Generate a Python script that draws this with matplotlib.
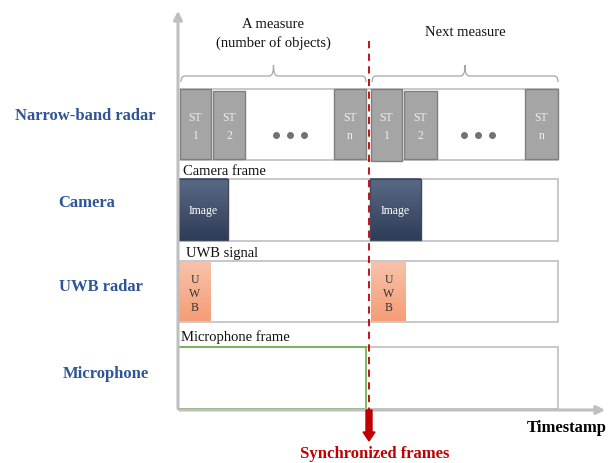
import numpy as np
import matplotlib
matplotlib.use("Agg")
import matplotlib.pyplot as plt
from matplotlib.patches import Rectangle, FancyArrow
from matplotlib.path import Path
from matplotlib.patches import PathPatch
from matplotlib.colors import LinearSegmentedColormap

plt.rcParams["font.family"] = ["Liberation Serif", "DejaVu Serif"]

# sensors (row labels) and the label written above each lane
sensors = ["Narrow-band radar", "Camera", "UWB radar", "Microphone"]
lane_titles = ["", "Camera frame", "UWB signal", "Microphone frame"]
label_x = [85, 87, 101, 106]
label_y = [116, 203, 287, 374]

# time extents of lanes (pixel-like timeline units)
t_start, t_end = 178, 558
lane_top = [90, 180, 262, 348]
lane_bot = [161, 242, 323, 410]
sync_t = 369

# narrow-band radar slots: (start, end, label)
st_slots = [(180, 211, "ST\n1"), (213, 245, "ST\n2"), (334, 366, "ST\nn"),
            (371, 402, "ST\n1"), (404, 437, "ST\n2"), (525, 558, "ST\nn")]
dots_centres = [290, 478]
# camera images, uwb pulses, microphone frames
image_slots = [(178, 228), (370, 421)]
uwb_slots = [(178, 211), (371, 406)]
mic_slots = [(178, 366)]
# measures (braces)
measures = [(181, 366, "A measure\n(number of objects)", 34), (372, 558, "Next measure", 33)]

fig = plt.figure(figsize=(6.09, 4.64), dpi=100)
ax = fig.add_axes([0, 0, 1, 1])
ax.set_xlim(0, 609)
ax.set_ylim(464, 0)
ax.axis("off")

axis_c = "#bfbfbf"
box_c = "#bfbfbf"

# lanes
for top, bot in zip(lane_top, lane_bot):
    ax.add_patch(Rectangle((t_start, top), t_end - t_start, bot - top, fc="white",
                           ec=box_c, lw=1.2, zorder=1))

# narrow-band radar slots
for i, (a, b, lab) in enumerate(st_slots):
    top = lane_top[0] + (2 if i in (1, 4) else 0)
    bot = lane_bot[0] + (1 if i == 3 else -1)
    ax.add_patch(Rectangle((a, top), b - a, bot - top, fc="#a5a5a5", ec="#7f7f7f",
                           lw=1.0, zorder=2))
    ax.text((a + b) / 2, 127, lab, ha="center", va="center", color="#eeeeee",
            fontsize=8.5, linespacing=1.6, zorder=3)
for c in dots_centres:
    ax.scatter([c - 14, c, c + 14], [136, 136, 136], s=16, color="#767171", zorder=3)

# camera images with gradient
cam_cmap = LinearSegmentedColormap.from_list("cam", ["#5b6a84", "#2f3c57"])
grad = np.linspace(0, 1, 64).reshape(-1, 1)
for a, b in image_slots:
    ax.imshow(grad, cmap=cam_cmap, extent=(a, b, lane_bot[1] - 1, lane_top[1]),
              aspect="auto", zorder=2)
    ax.add_patch(Rectangle((a, lane_top[1]), b - a, lane_bot[1] - 1 - lane_top[1],
                           fc="none", ec="#3d4a63", lw=1.0, zorder=3))
    ax.text((a + b) / 2, 211, "Image", ha="center", va="center", color="white",
            fontsize=8.5, zorder=4)

# uwb pulses with gradient
uwb_cmap = LinearSegmentedColormap.from_list("uwb", ["#f7c2aa", "#f59d76"])
for a, b in uwb_slots:
    ax.imshow(grad, cmap=uwb_cmap, extent=(a, b, lane_bot[2] - 1, lane_top[2] + 1),
              aspect="auto", zorder=2)
    for k, ch in enumerate("UWB"):
        ax.text((a + b) / 2, 280 + 14 * k, ch, ha="center", va="center",
                color="#333333", fontsize=8.5, zorder=4)

# microphone frame
for a, b in mic_slots:
    ax.add_patch(Rectangle((a, lane_top[3]), b - a, lane_bot[3] - lane_top[3],
                           fc="none", ec="#70ad47", lw=1.2, zorder=3))

# lane titles
title_y = [0, 172, 253, 337]
title_x = [0, 183, 186, 181]
for t, x, y in zip(lane_titles, title_x, title_y):
    if t:
        ax.text(x, y, t, ha="left", va="center", fontsize=10.5, color="#111111")

# sensor names
for s, x, y in zip(sensors, label_x, label_y):
    ax.text(x, y, s, ha="center", va="center", fontsize=12, fontweight="bold",
            color="#2f5597")

# braces
def brace(x0, x1, yb, yt):
    mid = (x0 + x1) / 2
    ya = yb - 6
    verts = [(x0, yb), (x0, ya), (x0 + 4, ya), (mid - 4, ya), (mid, ya), (mid, yt),
             (mid, ya), (mid + 4, ya), (x1 - 4, ya), (x1, ya), (x1, yb)]
    codes = [Path.MOVETO, Path.CURVE3, Path.CURVE3, Path.LINETO, Path.CURVE3, Path.CURVE3,
             Path.CURVE3, Path.CURVE3, Path.LINETO, Path.CURVE3, Path.CURVE3]
    ax.add_patch(PathPatch(Path(verts, codes), fc="none", ec="#a6a6a6", lw=0.9, zorder=2))

for a, b, lab, ty in measures:
    brace(a, b, 83, 66)
    ax.text((a + b) / 2, ty, lab, ha="center", va="center", fontsize=10.5,
            linespacing=1.4, color="#111111")

# axes with arrows
ax.annotate("", xy=(178, 9), xytext=(178, 412),
            arrowprops=dict(arrowstyle="-|>,head_width=0.25,head_length=0.5",
                            color=axis_c, lw=2.2))
ax.annotate("", xy=(608, 411), xytext=(177, 411),
            arrowprops=dict(arrowstyle="-|>,head_width=0.25,head_length=0.5",
                            color=axis_c, lw=2.2))
ax.text(567, 428, "Timestamp", ha="center", va="center", fontsize=12,
        fontweight="bold", color="black")

# synchronisation line and arrow
ax.plot([sync_t, sync_t], [42, 411], color="#c00000", lw=1.3, ls=(0, (4, 3)), zorder=5)
ax.add_patch(FancyArrow(sync_t, 411, 0, 31, width=6, head_width=12, head_length=9,
                        length_includes_head=True, color="#c00000", zorder=6))
ax.text(375, 454, "Synchronized frames", ha="center", va="center", fontsize=12,
        fontweight="bold", color="#c00000")

fig.savefig("out.png", dpi=100)
